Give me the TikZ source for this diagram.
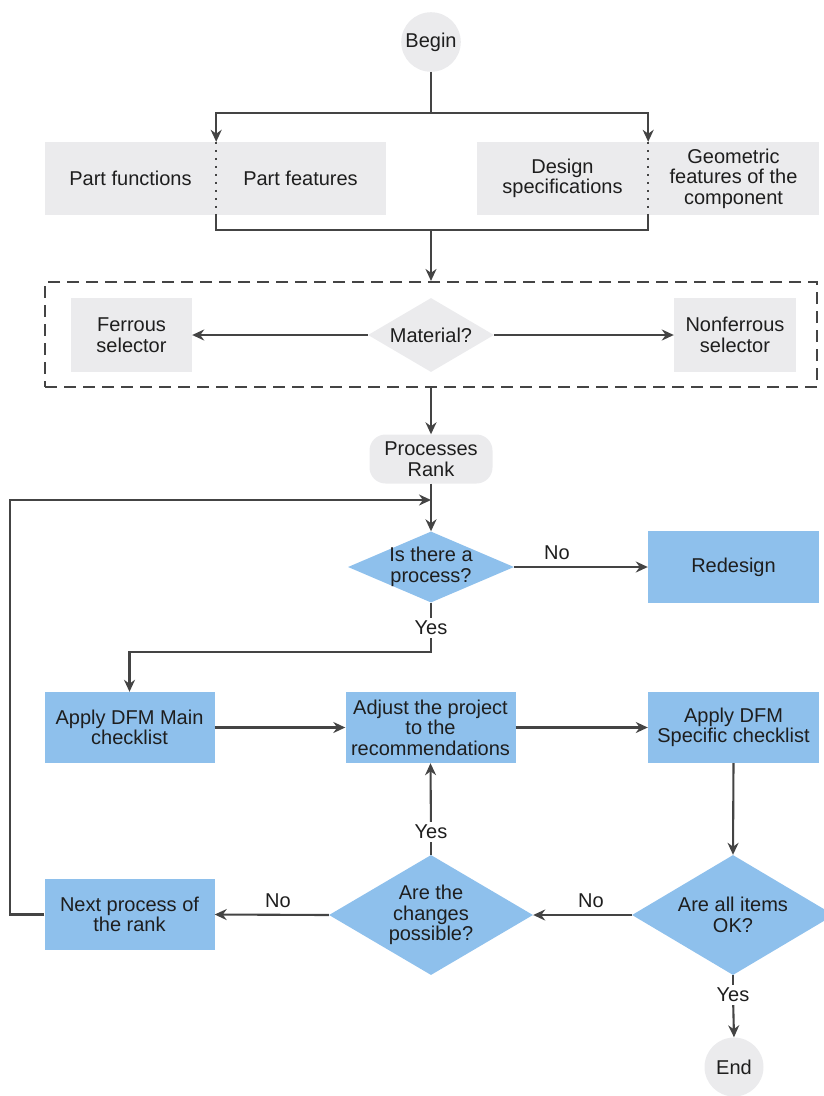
\documentclass[tikz,border=0pt]{standalone}
\usepackage{fontspec}
\setmainfont{Liberation Sans}
\usepackage{tikz}
\usepackage{xcolor}
\usetikzlibrary{positioning, arrows.meta, shapes.geometric}
\definecolor{fcblue}{RGB}{142, 192, 236}
\definecolor{fcgrey}{RGB}{235, 235, 237}
\definecolor{fcline}{RGB}{68, 68, 68}
\definecolor{fctext}{RGB}{30, 30, 30}
\tikzset{
    fcbase/.style={inner sep=2pt, align=center, text=fctext, font=\fontsize{20}{20.5}\selectfont},
    greybox/.style={fcbase, rectangle, fill=fcgrey, minimum height=73pt},
    bluebox/.style={fcbase, rectangle, fill=fcblue, minimum width=170pt, minimum height=71pt},
    termnode/.style={fcbase, circle, fill=fcgrey, minimum size=57pt},
    greydec/.style={fcbase, diamond, aspect=2, inner sep=-4pt, fill=fcgrey},
    bluedec/.style={fcbase, diamond, aspect=2, inner sep=-4pt, fill=fcblue},
    lblnode/.style={fcbase, fill=white, inner sep=3pt},
    line/.style={draw=fcline, line width=2.1pt},
    arr/.style={line, -{Stealth[length=12pt, width=11pt]}}
}
\begin{document}
\begin{tikzpicture}[x=1pt, y=-1pt]
                    \useasboundingbox (0,0) rectangle (824,1096);
                    \node[termnode] (begin) at (431,42) {Begin};
                    \node[greybox, minimum width=171pt] (partfn) at (130.5,178.5) {Part functions};
                    \node[greybox, minimum width=171pt] (partft) at (300.5,178.5) {Part features};
                    \node[greybox, minimum width=171pt] (designspec) at (562.5,178.5) {Design\\specifications};
                    \node[greybox, minimum width=171pt] (geomfeat) at (733.5,178.5) {Geometric\\features of the\\component};
                    \coordinate (splittop) at (431,113);
                    \coordinate (joinbot) at (431,230);

                    \node[draw=fcline, line width=2.1pt, dash pattern=on 12pt off 7pt, minimum width=772pt, minimum height=105pt] (matbox) at (431,334.5) {};
                    \node[greybox, minimum width=121pt, minimum height=74pt] (ferrous) at (131.5,335) {Ferrous\\selector};
                    \node[greydec, minimum width=126pt, minimum height=74pt] (material) at (431,335) {Material?};
                    \node[greybox, minimum width=122pt, minimum height=74pt] (nonferrous) at (735,335) {Nonferrous\\selector};

                    \node[fcbase, rectangle, rounded corners=16pt, fill=fcgrey, minimum width=123pt, minimum height=49pt] (rank) at (431,459) {Processes\\Rank};
                    \node[bluedec, minimum width=166pt, minimum height=71pt] (isproc) at (431,567) {Is there a\\process?};
                    \node[bluebox, minimum width=171pt, minimum height=72pt] (redesign) at (733.5,567) {Redesign};
                    \coordinate (bend1) at (431,652);

                    \node[bluebox] (mainlist) at (129.5,727.5) {Apply DFM Main\\checklist};
                    \node[bluebox] (adjust) at (430.5,727.5) {Adjust the project\\to the\\recommendations};
                    \node[bluebox, minimum width=171pt] (speclist) at (733.5,727.5) {Apply DFM\\Specific checklist};
                    \node[bluedec, minimum width=204pt, minimum height=120pt] (changes) at (431,915) {Are the\\changes\\possible?};
                    \node[bluedec, minimum width=202pt, minimum height=120pt] (allok) at (733,915) {Are all items\\OK?};
                    \node[bluebox] (nextproc) at (129.5,914.5) {Next process of\\the rank};
                    \node[termnode, minimum size=59pt] (endnode) at (734,1067) {End};
                    \coordinate (loopleft) at (10,500);
                    \coordinate (loopjoin) at (431,500);

                    \node[lblnode] (yes1) at (431,628) {Yes};
                    \node[lblnode] (no1) at (557,553) {No};
                    \node[lblnode] (yes2) at (431,832) {Yes};
                    \node[lblnode] (no2) at (591,901) {No};
                    \node[lblnode] (no3) at (278,901) {No};
                    \node[lblnode] (yes3) at (733,995) {Yes};

                    \draw[line] (begin) -- (splittop);
                    \draw[arr] (splittop) -| (partfn.north east);
                    \draw[arr] (splittop) -| (designspec.north east);
                    \draw[line, dash pattern=on 2pt off 6pt] (partfn.north east) -- (partfn.south east);
                    \draw[line, dash pattern=on 2pt off 6pt] (designspec.north east) -- (designspec.south east);
                    \draw[line] (partfn.south east) |- (joinbot);
                    \draw[line] (designspec.south east) |- (joinbot);
                    \draw[arr] (joinbot) -- (matbox.north);
                    \draw[arr] (material.west) -- (ferrous.east);
                    \draw[arr] (material.east) -- (nonferrous.west);
                    \draw[arr] (matbox.south) -- (rank.north);
                    \draw[arr] (rank.south) -- (isproc.north);
                    \draw[arr] (nextproc.west) -| (loopleft) -- (loopjoin);
                    \draw[arr] (isproc.east) -- (redesign.west);
                    \draw[line] (isproc.south) -- (yes1);
                    \draw[arr] (yes1) -- (bend1) -| (mainlist.north);
                    \draw[arr] (mainlist.east) -- (adjust.west);
                    \draw[arr] (adjust.east) -- (speclist.west);
                    \draw[arr] (speclist.south) -- (allok.north);
                    \draw[arr] (allok.west) -- (changes.east);
                    \draw[arr] (changes.west) -- (nextproc.east);
                    \draw[line] (changes.north) -- (yes2);
                    \draw[arr] (yes2) -- (adjust.south);
                    \draw[line] (allok.south) -- (yes3);
                    \draw[arr] (yes3) -- (endnode.north);
                \end{tikzpicture}
\end{document}
